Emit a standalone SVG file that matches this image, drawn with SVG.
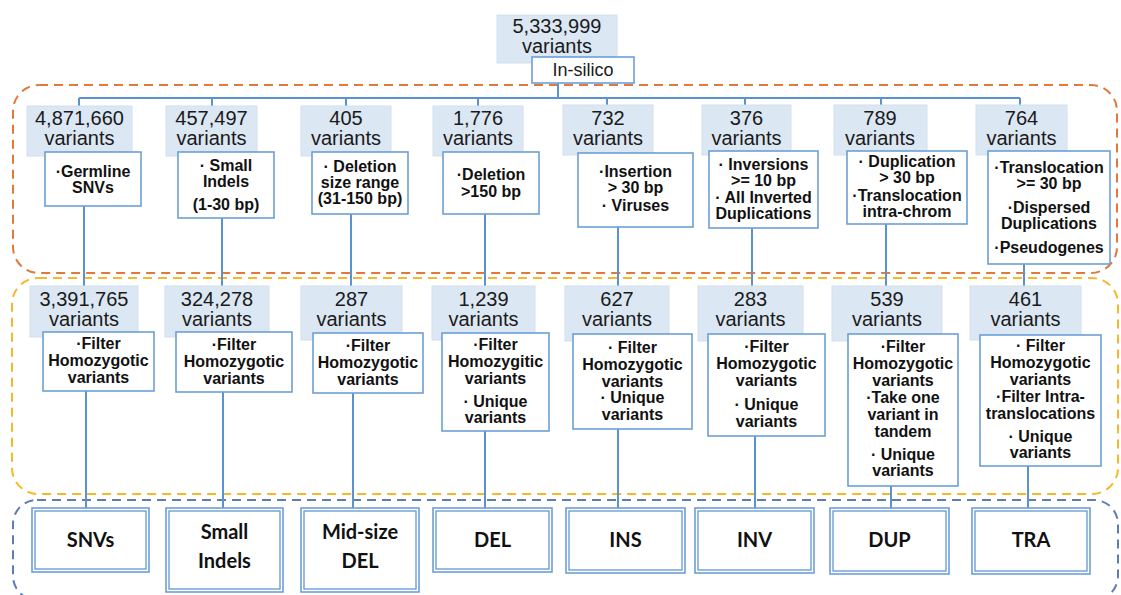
<svg xmlns="http://www.w3.org/2000/svg" width="1121" height="595" viewBox="0 0 1121 595">
<style>
.cnt{fill:#dce7f4;stroke:#d3dfee;stroke-width:1}
.ct{font-family:"Liberation Sans",Arial,sans-serif;font-size:20px;fill:#1a1a1a;text-anchor:middle}
.desc{fill:#fff;stroke:#6c9fd6;stroke-width:1.6}
.dt{font-family:"Liberation Sans",Arial,sans-serif;font-size:16px;font-weight:bold;fill:#111;text-anchor:middle}
.ln{stroke:#5b93d0;stroke-width:2;fill:none}
.fo{fill:#fff;stroke:#6c9fd6;stroke-width:1.6}
.fi{fill:none;stroke:#6c9fd6;stroke-width:1.4}
.ft{font-family:Lato,"Open Sans",sans-serif;font-size:20px;font-weight:bold;fill:#111;text-anchor:middle}
.grp{fill:none;stroke-width:2;stroke-dasharray:9 6}
</style>
<rect width="1121" height="595" fill="#fff"/>
<!-- group frames -->
<rect class="grp" x="13" y="85" width="1104" height="188" rx="26" stroke="#e0793a"/>
<rect class="grp" x="12" y="278" width="1106" height="216" rx="26" stroke="#f4b829"/>
<rect class="grp" x="13" y="500" width="1105" height="100" rx="24" stroke="#5b7fb5"/>

<g id="connectors">
<path class="ln" d="M558 83V98M79 98H1020M79 98V106M212 98V106M346 98V106M478 98V106M607 98V105M745 98V105M881 98V105M1020 98V105"/>
<path class="ln" d="M84 206V286M222 218V286M351 214V286M485 214V286M618 227V286M752 228V286M886 224V286M1024 264V286"/>
<path class="ln" d="M86 391V508M223 392V508M353 393V508M485 431V508M618 429V508M755 436V508M891 486V508M1028 466V508"/>
</g>

<g id="root">
<rect class="cnt" x="497" y="15" width="120" height="48"/>
<text class="ct" x="557" y="33">5,333,999</text>
<text class="ct" x="557" y="53">variants</text>
<rect class="desc" x="532" y="57" width="102" height="26"/>
<text class="ct" x="583" y="76" style="font-size:18px">In-silico</text>
</g>

<!-- Row 1 -->
<g id="r1-snv">
<rect class="cnt" x="27" y="106" width="105" height="50"/>
<text class="ct" x="79.5" y="125">4,871,660</text><text class="ct" x="79.5" y="145">variants</text>
<rect class="desc" x="45" y="152" width="96" height="54"/>
<text class="dt" x="93" y="177">·Germline</text><text class="dt" x="93" y="193">SNVs</text>
</g>
<g id="r1-indel">
<rect class="cnt" x="166" y="106" width="91" height="50"/>
<text class="ct" x="211.5" y="125">457,497</text><text class="ct" x="211.5" y="145">variants</text>
<rect class="desc" x="178" y="152" width="96" height="66"/>
<text class="dt" x="226" y="171">· Small</text><text class="dt" x="226" y="187">Indels</text><text class="dt" x="226" y="210">(1-30 bp)</text>
</g>
<g id="r1-middel">
<rect class="cnt" x="301" y="106" width="90" height="50"/>
<text class="ct" x="346" y="125">405</text><text class="ct" x="346" y="145">variants</text>
<rect class="desc" x="312" y="152" width="96" height="62"/>
<text class="dt" x="360" y="172">· Deletion</text><text class="dt" x="360" y="188">size range</text><text class="dt" x="360" y="204">(31-150 bp)</text>
</g>
<g id="r1-del">
<rect class="cnt" x="433" y="106" width="90" height="50"/>
<text class="ct" x="478" y="125">1,776</text><text class="ct" x="478" y="145">variants</text>
<rect class="desc" x="443" y="152" width="96" height="62"/>
<text class="dt" x="491" y="180">·Deletion</text><text class="dt" x="491" y="197">&gt;150 bp</text>
</g>
<g id="r1-ins">
<rect class="cnt" x="563" y="105" width="90" height="50"/>
<text class="ct" x="608" y="125">732</text><text class="ct" x="608" y="145">variants</text>
<rect class="desc" x="578" y="153" width="115" height="74"/>
<text class="dt" x="635.5" y="177">·Insertion</text><text class="dt" x="635.5" y="193">&gt; 30 bp</text><text class="dt" x="635.5" y="211">· Viruses</text>
</g>
<g id="r1-inv">
<rect class="cnt" x="702" y="105" width="89" height="50"/>
<text class="ct" x="746.5" y="125">376</text><text class="ct" x="746.5" y="145">variants</text>
<rect class="desc" x="709" y="151" width="109" height="77"/>
<text class="dt" x="763.5" y="170">· Inversions</text><text class="dt" x="763.5" y="186">&gt;= 10 bp</text><text class="dt" x="763.5" y="203">· All Inverted</text><text class="dt" x="763.5" y="219">Duplications</text>
</g>
<g id="r1-dup">
<rect class="cnt" x="834" y="105" width="93" height="50"/>
<text class="ct" x="880" y="125">789</text><text class="ct" x="880" y="145">variants</text>
<rect class="desc" x="847" y="151" width="120" height="73"/>
<text class="dt" x="907" y="167">· Duplication</text><text class="dt" x="907" y="183">&gt; 30 bp</text><text class="dt" x="907" y="201">·Translocation</text><text class="dt" x="907" y="217">intra-chrom</text>
</g>
<g id="r1-tra">
<rect class="cnt" x="976" y="105" width="91" height="50"/>
<text class="ct" x="1021.5" y="125">764</text><text class="ct" x="1021.5" y="145">variants</text>
<rect class="desc" x="988" y="151" width="122" height="113"/>
<text class="dt" x="1049" y="173">·Translocation</text><text class="dt" x="1049" y="189">&gt;= 30 bp</text><text class="dt" x="1049" y="213">·Dispersed</text><text class="dt" x="1049" y="229">Duplications</text><text class="dt" x="1049" y="253">·Pseudogenes</text>
</g>

<!-- Row 2 -->
<g id="r2-snv">
<rect class="cnt" x="30" y="286" width="108" height="51"/>
<text class="ct" x="84" y="306">3,391,765</text><text class="ct" x="84" y="326">variants</text>
<rect class="desc" x="43" y="332" width="111" height="59"/>
<text class="dt" x="98.5" y="349">·Filter</text><text class="dt" x="98.5" y="366">Homozygotic</text><text class="dt" x="98.5" y="383">variants</text>
</g>
<g id="r2-indel">
<rect class="cnt" x="165" y="286" width="104" height="51"/>
<text class="ct" x="217" y="306">324,278</text><text class="ct" x="217" y="326">variants</text>
<rect class="desc" x="176" y="332" width="116" height="60"/>
<text class="dt" x="234" y="350">·Filter</text><text class="dt" x="234" y="367">Homozygotic</text><text class="dt" x="234" y="384">variants</text>
</g>
<g id="r2-middel">
<rect class="cnt" x="301" y="286" width="101" height="54"/>
<text class="ct" x="351.5" y="306">287</text><text class="ct" x="351.5" y="326">variants</text>
<rect class="desc" x="313" y="333" width="110" height="60"/>
<text class="dt" x="368" y="351">·Filter</text><text class="dt" x="368" y="368">Homozygotic</text><text class="dt" x="368" y="385">variants</text>
</g>
<g id="r2-del">
<rect class="cnt" x="432" y="286" width="103" height="54"/>
<text class="ct" x="483.5" y="306">1,239</text><text class="ct" x="483.5" y="326">variants</text>
<rect class="desc" x="442" y="333" width="107" height="98"/>
<text class="dt" x="495.5" y="350">·Filter</text><text class="dt" x="495.5" y="367">Homozygitic</text><text class="dt" x="495.5" y="384">variants</text><text class="dt" x="495.5" y="407">· Unique</text><text class="dt" x="495.5" y="423">variants</text>
</g>
<g id="r2-ins">
<rect class="cnt" x="565" y="286" width="104" height="55"/>
<text class="ct" x="617" y="306">627</text><text class="ct" x="617" y="326">variants</text>
<rect class="desc" x="573" y="334" width="119" height="95"/>
<text class="dt" x="632.5" y="353">· Filter</text><text class="dt" x="632.5" y="370">Homozygotic</text><text class="dt" x="632.5" y="387">variants</text><text class="dt" x="632.5" y="403">· Unique</text><text class="dt" x="632.5" y="420">variants</text>
</g>
<g id="r2-inv">
<rect class="cnt" x="698" y="286" width="105" height="55"/>
<text class="ct" x="750.5" y="306">283</text><text class="ct" x="750.5" y="326">variants</text>
<rect class="desc" x="708" y="334" width="117" height="102"/>
<text class="dt" x="766.5" y="352">·Filter</text><text class="dt" x="766.5" y="369">Homozygotic</text><text class="dt" x="766.5" y="386">variants</text><text class="dt" x="766.5" y="410">· Unique</text><text class="dt" x="766.5" y="427">variants</text>
</g>
<g id="r2-dup">
<rect class="cnt" x="832" y="286" width="110" height="55"/>
<text class="ct" x="887" y="306">539</text><text class="ct" x="887" y="326">variants</text>
<rect class="desc" x="848" y="334" width="110" height="152"/>
<text class="dt" x="903" y="352">·Filter</text><text class="dt" x="903" y="369">Homozygotic</text><text class="dt" x="903" y="386">variants</text><text class="dt" x="903" y="403">·Take one</text><text class="dt" x="903" y="420">variant in</text><text class="dt" x="903" y="437">tandem</text><text class="dt" x="903" y="460">· Unique</text><text class="dt" x="903" y="476">variants</text>
</g>
<g id="r2-tra">
<rect class="cnt" x="970" y="286" width="111" height="54"/>
<text class="ct" x="1025.5" y="306">461</text><text class="ct" x="1025.5" y="326">variants</text>
<rect class="desc" x="980" y="335" width="121" height="131"/>
<text class="dt" x="1040.5" y="351">· Filter</text><text class="dt" x="1040.5" y="368">Homozygotic</text><text class="dt" x="1040.5" y="385">variants</text><text class="dt" x="1040.5" y="402">·Filter Intra-</text><text class="dt" x="1040.5" y="419">translocations</text><text class="dt" x="1040.5" y="442">· Unique</text><text class="dt" x="1040.5" y="458">variants</text>
</g>

<!-- Final categories -->
<g id="f-snv"><rect class="fo" x="32" y="508" width="117" height="64"/><rect class="fi" x="35" y="511" width="111" height="58"/><text class="ft" x="90.5" y="547">SNVs</text></g>
<g id="f-indel"><rect class="fo" x="166" y="508" width="117" height="84"/><rect class="fi" x="169" y="511" width="111" height="78"/><text class="ft" x="224.5" y="539">Small</text><text class="ft" x="224.5" y="568">Indels</text></g>
<g id="f-middel"><rect class="fo" x="301" y="508" width="118" height="84"/><rect class="fi" x="304" y="511" width="112" height="78"/><text class="ft" x="360" y="539">Mid-size</text><text class="ft" x="360" y="568">DEL</text></g>
<g id="f-del"><rect class="fo" x="433" y="508" width="119" height="64"/><rect class="fi" x="436" y="511" width="113" height="58"/><text class="ft" x="492.5" y="547">DEL</text></g>
<g id="f-ins"><rect class="fo" x="566" y="508" width="119" height="65"/><rect class="fi" x="569" y="511" width="113" height="59"/><text class="ft" x="625.5" y="547">INS</text></g>
<g id="f-inv"><rect class="fo" x="695" y="508" width="119" height="65"/><rect class="fi" x="698" y="511" width="113" height="59"/><text class="ft" x="754.5" y="547">INV</text></g>
<g id="f-dup"><rect class="fo" x="830" y="508" width="119" height="66"/><rect class="fi" x="833" y="511" width="113" height="60"/><text class="ft" x="889.5" y="547">DUP</text></g>
<g id="f-tra"><rect class="fo" x="972" y="508" width="118" height="66"/><rect class="fi" x="975" y="511" width="112" height="60"/><text class="ft" x="1031" y="547">TRA</text></g>
</svg>
